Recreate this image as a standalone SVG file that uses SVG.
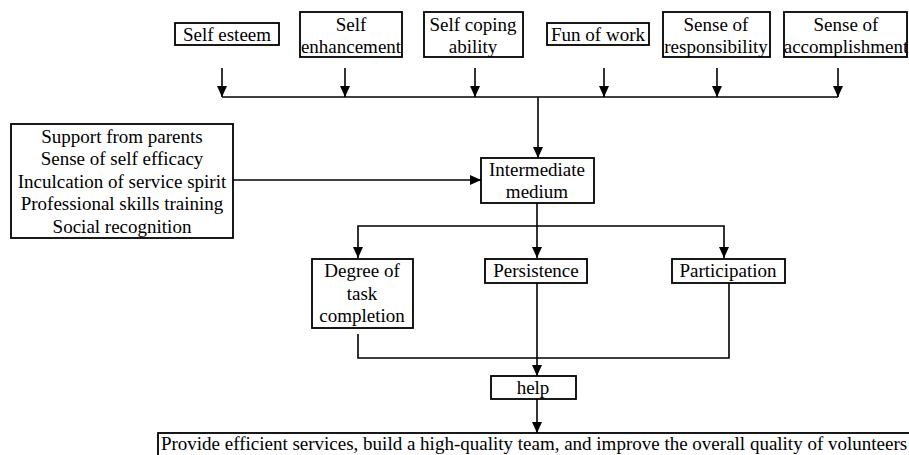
<svg xmlns="http://www.w3.org/2000/svg" width="909" height="455" viewBox="0 0 909 455">
<defs>
<marker id="arr" markerUnits="userSpaceOnUse" markerWidth="12" markerHeight="12" viewBox="0 0 12 12" refX="11" refY="6" orient="auto">
<path d="M0,1 L11,6 L0,11 Z" fill="#000"/>
</marker>
<style>
rect{fill:#fff;stroke:#000;stroke-width:1.8}
text{font-family:"Liberation Serif","Times New Roman",serif;font-size:19px;fill:#000;text-anchor:middle}
.c path,.c line{stroke:#000;stroke-width:1.6;fill:none}
.a{marker-end:url(#arr)}
</style>
</defs>
<rect x="0" y="0" width="909" height="455" style="fill:#fff;stroke:none"/>
<g id="n-self-esteem"><rect x="175" y="23" width="104" height="22"/><text x="227" y="41">Self esteem</text></g>
<g id="n-self-enhancement"><rect x="300" y="12" width="102" height="45"/><text x="351" y="31">Self</text><text x="351" y="53">enhancement</text></g>
<g id="n-self-coping"><rect x="424" y="12" width="99" height="45"/><text x="473" y="31">Self coping</text><text x="473" y="53">ability</text></g>
<g id="n-fun-of-work"><rect x="547" y="23" width="102" height="22"/><text x="598" y="41">Fun of work</text></g>
<g id="n-responsibility"><rect x="663" y="12" width="107" height="45"/><text x="716" y="31">Sense of</text><text x="716" y="53">responsibility</text></g>
<g id="n-accomplishment"><rect x="784" y="12" width="123" height="45"/><text x="846" y="31">Sense of</text><text x="846" y="53">accomplishment</text></g>
<g id="n-factors"><rect x="11" y="124" width="222" height="114"/>
<text x="122" y="142.5">Support from parents</text>
<text x="122" y="165">Sense of self efficacy</text>
<text x="122" y="187.5">Inculcation of service spirit</text>
<text x="122" y="210">Professional skills training</text>
<text x="122" y="232.5">Social recognition</text></g>
<g id="n-intermediate"><rect x="481" y="158" width="113" height="45"/><text x="537" y="176">Intermediate</text><text x="537" y="198">medium</text></g>
<g id="n-degree"><rect x="312" y="259" width="101" height="69"/><text x="362" y="277">Degree of</text><text x="362" y="299.5">task</text><text x="362" y="322">completion</text></g>
<g id="n-persistence"><rect x="485" y="259" width="102" height="24"/><text x="536" y="277">Persistence</text></g>
<g id="n-participation"><rect x="672" y="259" width="113" height="24"/><text x="728" y="277">Participation</text></g>
<g id="n-help"><rect x="491" y="376" width="85" height="23"/><text x="533" y="394">help</text></g>
<g id="n-outcome"><rect x="158" y="433" width="760" height="40"/><text x="534" y="450">Provide efficient services, build a high-quality team, and improve the overall quality of volunteers</text></g>
<g id="connectors" class="c">
<line class="a" x1="222" y1="68" x2="222" y2="97"/>
<line class="a" x1="345" y1="68" x2="345" y2="97"/>
<line class="a" x1="475" y1="68" x2="475" y2="97"/>
<line class="a" x1="604" y1="68" x2="604" y2="97"/>
<line class="a" x1="717" y1="68" x2="717" y2="97"/>
<line class="a" x1="838" y1="68" x2="838" y2="97"/>
<line x1="222" y1="97" x2="838" y2="97"/>
<line class="a" x1="538" y1="97" x2="538" y2="158"/>
<line class="a" x1="233" y1="180" x2="481" y2="180"/>
<line class="a" x1="537" y1="203" x2="537" y2="258"/>
<path class="a" d="M537,226 H358 V258"/>
<path class="a" d="M537,226 H724 V258"/>
<line class="a" x1="537" y1="283" x2="537" y2="376"/>
<path d="M358,334 V358 H729 V283"/>
<line class="a" x1="537" y1="399" x2="537" y2="433"/>
</g>
</svg>
